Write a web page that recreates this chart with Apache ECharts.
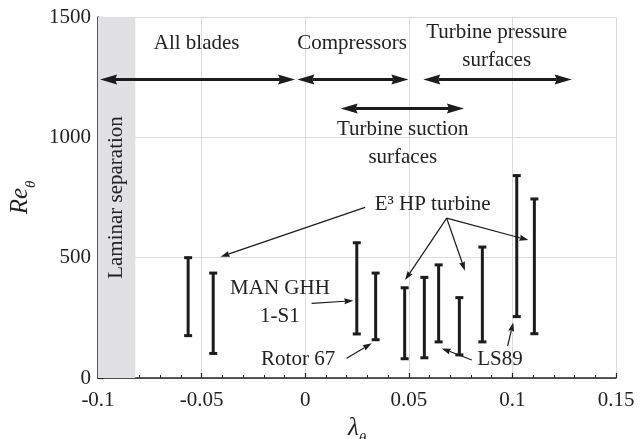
<!DOCTYPE html>
<html>
<head>
<meta charset="utf-8">
<script src="https://cdn.jsdelivr.net/npm/echarts@6/dist/echarts.min.js"></script>
<style>
  html, body { margin: 0; padding: 0; background: #fff; }
  #chart { width: 644px; height: 439px; }
</style>
</head>
<body>
<div id="chart"></div>
<script>
// Re_theta ranges of blade test cases against the pressure-gradient parameter lambda_theta
const xTicks = [-0.1, -0.05, 0, 0.05, 0.1, 0.15];
const yTicks = [0, 500, 1000, 1500];

// Test cases: lambda position, lowest and highest Re_theta
const caseLambda = [-0.0565, -0.0444, 0.0249, 0.0340, 0.0480, 0.0575, 0.0644, 0.0744, 0.0855, 0.1021, 0.1106];
const caseReLow  = [176, 102, 183, 159, 80, 84, 150, 96, 150, 255, 184];
const caseReHigh = [500, 436, 562, 436, 375, 418, 470, 334, 544, 841, 744];

// Laminar separation band (lambda from, to)
const separationBand = [-0.1, -0.082];
const separationText = 'Laminar separation';

// Typical lambda ranges per blade type
const rangeNames  = ['All blades', 'Compressors', 'Turbine pressure\nsurfaces', 'Turbine suction\nsurfaces'];
const rangeFrom   = [-0.099, -0.0038, 0.0570, 0.0171];
const rangeTo     = [-0.0049, 0.0498, 0.1286, 0.0766];
const rangeRe     = [1240, 1240, 1240, 1120];
const rangeLabelX = [-0.0524, 0.0226, 0.0924, 0.0471];
const rangeLabelY = [1392, 1392, 1377, 976];

// Case names and their leader arrows
const caseNames  = ['E\u00b3 HP turbine', 'MAN GHH\n1-S1', 'Rotor 67', 'LS89'];
const caseLabelX = [0.0615, -0.0122, -0.0034, 0.0940];
const caseLabelY = [719, 312, 77, 77];
const leaderFromX = [0.0289, 0.0683, 0.0683, 0.0683, 0.0031, 0.0200, 0.0804, 0.0977];
const leaderFromY = [709, 664, 664, 664, 310, 82, 75, 133];
const leaderToX   = [-0.0408, 0.0482, 0.0771, 0.1077, 0.0232, 0.0321, 0.0659, 0.1004];
const leaderToY   = [504, 407, 446, 573, 321, 144, 123, 231];

const SERIF = '"Liberation Serif", "Times New Roman", serif';
const INK = '#1c1c1c';
const TEXT = '#222';

// Arrow head polygon with its tip at `tip`, pointing away from `from`
function arrowHead(tip, from, len, half, notch) {
  const dx = tip[0] - from[0], dy = tip[1] - from[1];
  const d = Math.hypot(dx, dy) || 1;
  const ux = dx / d, uy = dy / d, nx = -uy, ny = ux;
  const bx = tip[0] - ux * len, by = tip[1] - uy * len;
  const inner = [tip[0] - ux * len * (1 - notch), tip[1] - uy * len * (1 - notch)];
  return {
    points: [[tip[0], tip[1]], [bx + nx * half, by + ny * half], inner, [bx - nx * half, by - ny * half]],
    inner: inner
  };
}

function arrowShape(a, b, opts) {
  const children = [];
  let s = a, e = b;
  if (opts.tail) {
    const h = arrowHead(a, b, opts.len, opts.half, opts.notch);
    children.push({ type: 'polygon', shape: { points: h.points }, style: { fill: INK } });
    s = h.inner;
  }
  const h2 = arrowHead(b, a, opts.len, opts.half, opts.notch);
  children.push({ type: 'polygon', shape: { points: h2.points }, style: { fill: INK } });
  e = h2.inner;
  children.unshift({
    type: 'line',
    shape: { x1: s[0], y1: s[1], x2: e[0], y2: e[1] },
    style: { stroke: INK, lineWidth: opts.width }
  });
  return { type: 'group', children: children };
}

function tickText(ticks) {
  return v => String(ticks.find(t => Math.abs(t - v) < 1e-9) ?? v);
}

const chart = echarts.init(document.getElementById('chart'), null, { renderer: 'canvas' });

const axisLabelStyle = { fontFamily: SERIF, fontSize: 21, color: TEXT };
const titleRich = {
  i: { fontFamily: SERIF, fontStyle: 'italic', fontSize: 25, lineHeight: 36, color: TEXT },
  s: { fontFamily: SERIF, fontStyle: 'italic', fontSize: 15, lineHeight: 15, verticalAlign: 'bottom', color: TEXT }
};

chart.setOption({
  animation: false,
  backgroundColor: '#fff',
  grid: { left: 98, right: 28, top: 17, bottom: 61, containLabel: false, outerBoundsMode: 'none' },
  xAxis: {
    type: 'value',
    min: xTicks[0], max: xTicks[xTicks.length - 1], interval: 0.05,
    axisLine: { onZero: false, lineStyle: { color: '#222', width: 1.5 } },
    axisTick: { inside: true, length: 5, lineStyle: { color: '#222', width: 1.2 } },
    minorTick: { show: true, splitNumber: 5, length: 3, lineStyle: { color: '#222', width: 1 } },
    splitLine: { show: true, lineStyle: { color: '#dcdcdc', width: 1 } },
    axisLabel: Object.assign({ margin: 12, formatter: tickText(xTicks) }, axisLabelStyle),
    name: '{i|\u03bb}{s|\u03b8}',
    nameLocation: 'middle',
    nameGap: 29,
    nameTextStyle: { rich: titleRich }
  },
  yAxis: {
    type: 'value',
    min: yTicks[0], max: yTicks[yTicks.length - 1], interval: 500,
    axisLine: { show: true, onZero: false, lineStyle: { color: '#222', width: 1.5 } },
    axisTick: { show: true, inside: true, length: 5, lineStyle: { color: '#222', width: 1.2 } },
    minorTick: { show: true, splitNumber: 5, length: 3, lineStyle: { color: '#222', width: 1 } },
    splitLine: { show: true, lineStyle: { color: '#dcdcdc', width: 1 } },
    axisLabel: Object.assign({ margin: 7, formatter: tickText(yTicks) }, axisLabelStyle),
    name: '{i|Re}{s|\u03b8}',
    nameLocation: 'middle',
    nameRotate: 90,
    nameGap: 42,
    nameTextStyle: { rich: titleRich }
  },
  series: [
    {
      // laminar separation band
      type: 'custom',
      z: 1,
      silent: true,
      data: [[separationBand[0], separationBand[1]]],
      renderItem: function (params, api) {
        const p0 = api.coord([api.value(0), yTicks[yTicks.length - 1]]);
        const p1 = api.coord([api.value(1), yTicks[0]]);
        const cx = (p0[0] + p1[0]) / 2, cy = (p0[1] + p1[1]) / 2;
        return {
          type: 'group',
          children: [
            { type: 'rect', shape: { x: p0[0], y: p0[1], width: p1[0] - p0[0], height: p1[1] - p0[1] },
              style: { fill: '#e1e1e3' } },
            { type: 'text', x: cx, y: cy, rotation: Math.PI / 2,
              style: { text: separationText, x: 0, y: 0, align: 'center', verticalAlign: 'middle',
                       font: '21px ' + SERIF, fill: TEXT } }
          ]
        };
      }
    },
    {
      // Re_theta range of each case
      type: 'custom',
      z: 5,
      silent: true,
      data: caseLambda.map((x, i) => [x, caseReLow[i], caseReHigh[i]]),
      renderItem: function (params, api) {
        const lo = api.coord([api.value(0), api.value(1)]);
        const hi = api.coord([api.value(0), api.value(2)]);
        const cap = 4, w = 3;
        const st = { stroke: INK, lineWidth: w };
        return {
          type: 'group',
          children: [
            { type: 'line', shape: { x1: lo[0], y1: lo[1], x2: hi[0], y2: hi[1] }, style: st },
            { type: 'line', shape: { x1: lo[0] - cap, y1: lo[1], x2: lo[0] + cap, y2: lo[1] }, style: st },
            { type: 'line', shape: { x1: hi[0] - cap, y1: hi[1], x2: hi[0] + cap, y2: hi[1] }, style: st }
          ]
        };
      }
    },
    {
      // lambda ranges per blade type
      type: 'custom',
      z: 5,
      silent: true,
      data: rangeFrom.map((x, i) => [x, rangeTo[i], rangeRe[i], rangeLabelX[i], rangeLabelY[i]]),
      renderItem: function (params, api) {
        const a = api.coord([api.value(0), api.value(2)]);
        const b = api.coord([api.value(1), api.value(2)]);
        const t = api.coord([api.value(3), api.value(4)]);
        const arrow = arrowShape(a, b, { tail: true, len: 17, half: 5, notch: 0.12, width: 3 });
        arrow.children.push({
          type: 'text', x: t[0], y: t[1],
          style: { text: rangeNames[params.dataIndex], x: 0, y: 0, align: 'center', verticalAlign: 'middle',
                   font: '21px ' + SERIF, lineHeight: 28, fill: TEXT }
        });
        return arrow;
      }
    },
    {
      // leader arrows to individual cases
      type: 'custom',
      z: 5,
      silent: true,
      data: leaderFromX.map((x, i) => [x, leaderFromY[i], leaderToX[i], leaderToY[i]]),
      renderItem: function (params, api) {
        const a = api.coord([api.value(0), api.value(1)]);
        const b = api.coord([api.value(2), api.value(3)]);
        return arrowShape(a, b, { tail: false, len: 9, half: 3, notch: 0.1, width: 1.2 });
      }
    },
    {
      // case names
      type: 'custom',
      z: 5,
      silent: true,
      data: caseLabelX.map((x, i) => [x, caseLabelY[i]]),
      renderItem: function (params, api) {
        const p = api.coord([api.value(0), api.value(1)]);
        return {
          type: 'text', x: p[0], y: p[1],
          style: { text: caseNames[params.dataIndex], x: 0, y: 0, align: 'center', verticalAlign: 'middle',
                   font: '21px ' + SERIF, lineHeight: 28, fill: TEXT }
        };
      }
    }
  ]
});
</script>
</body>
</html>
